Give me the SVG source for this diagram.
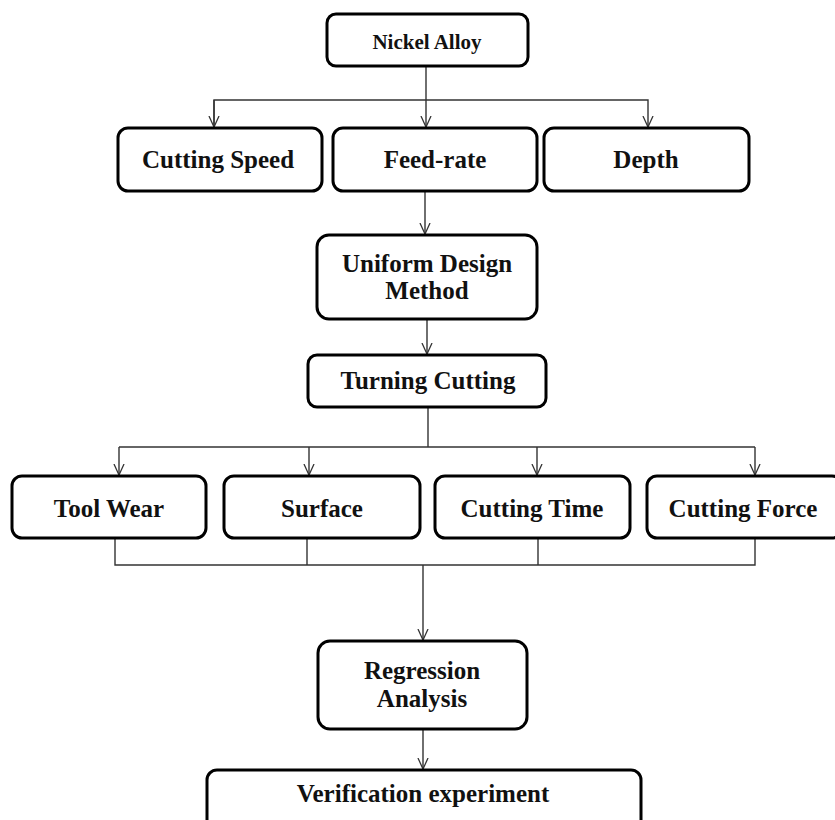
<svg xmlns="http://www.w3.org/2000/svg" width="835" height="820" viewBox="0 0 835 820">
<style>
.box{fill:#fff;stroke:#000;stroke-width:3}
.t{font-family:"Liberation Serif","Times New Roman",serif;font-weight:bold;font-size:25px;fill:#111;text-anchor:middle}
.s{font-size:21px}
.c{fill:none;stroke:#333;stroke-width:1.4}
</style>
<defs>
<marker id="ah" viewBox="0 0 12 12" refX="12" refY="6" markerWidth="11" markerHeight="12" markerUnits="userSpaceOnUse" orient="auto">
<path d="M0,0.5 L12,6 L0,11.5" fill="none" stroke="#333" stroke-width="1.4"/>
</marker>
</defs>
<rect width="835" height="820" fill="#fff"/>
<g id="connectors">
<line class="c" x1="426" y1="66" x2="426" y2="127" marker-end="url(#ah)"/>
<polyline class="c" points="214,127 214,100 648,100 648,127" marker-end="url(#ah)"/>
<line class="c" x1="214" y1="100" x2="214" y2="127" marker-end="url(#ah)"/>
<line class="c" x1="425" y1="191" x2="425" y2="234" marker-end="url(#ah)"/>
<line class="c" x1="427" y1="319" x2="427" y2="354" marker-end="url(#ah)"/>
<line class="c" x1="428" y1="407" x2="428" y2="447"/>
<line class="c" x1="119" y1="447" x2="755" y2="447"/>
<line class="c" x1="119" y1="447" x2="119" y2="475" marker-end="url(#ah)"/>
<line class="c" x1="309" y1="447" x2="309" y2="475" marker-end="url(#ah)"/>
<line class="c" x1="537" y1="447" x2="537" y2="475" marker-end="url(#ah)"/>
<line class="c" x1="755" y1="447" x2="755" y2="475" marker-end="url(#ah)"/>
<polyline class="c" points="115,538 115,565 755,565 755,538"/>
<line class="c" x1="307" y1="538" x2="307" y2="565"/>
<line class="c" x1="538" y1="538" x2="538" y2="565"/>
<line class="c" x1="423" y1="565" x2="423" y2="640" marker-end="url(#ah)"/>
<line class="c" x1="423" y1="729" x2="423" y2="769" marker-end="url(#ah)"/>
</g>
<g id="nickel-alloy">
<rect class="box" x="327" y="14" width="201" height="52" rx="9"/>
<text class="t s" x="427" y="49">Nickel Alloy</text>
</g>
<g id="cutting-speed">
<rect class="box" x="118" y="128" width="204" height="63" rx="10"/>
<text class="t" x="218" y="168">Cutting Speed</text>
</g>
<g id="feed-rate">
<rect class="box" x="333" y="128" width="204" height="63" rx="10"/>
<text class="t" x="435" y="168">Feed-rate</text>
</g>
<g id="depth">
<rect class="box" x="544" y="128" width="205" height="63" rx="10"/>
<text class="t" x="646" y="168">Depth</text>
</g>
<g id="uniform-design">
<rect class="box" x="317" y="235" width="220" height="84" rx="12"/>
<text class="t" x="427" y="272">Uniform Design</text>
<text class="t" x="427" y="299">Method</text>
</g>
<g id="turning-cutting">
<rect class="box" x="308" y="355" width="238" height="52" rx="9"/>
<text class="t" x="428" y="389">Turning Cutting</text>
</g>
<g id="tool-wear">
<rect class="box" x="12" y="476" width="194" height="62" rx="10"/>
<text class="t" x="109" y="517">Tool Wear</text>
</g>
<g id="surface">
<rect class="box" x="224" y="476" width="196" height="62" rx="10"/>
<text class="t" x="322" y="517">Surface</text>
</g>
<g id="cutting-time">
<rect class="box" x="435" y="476" width="195" height="62" rx="10"/>
<text class="t" x="532" y="517">Cutting Time</text>
</g>
<g id="cutting-force">
<rect class="box" x="647" y="476" width="195" height="62" rx="10"/>
<text class="t" x="743" y="517">Cutting Force</text>
</g>
<g id="regression-analysis">
<rect class="box" x="318" y="641" width="209" height="88" rx="12"/>
<text class="t" x="422" y="679">Regression</text>
<text class="t" x="422" y="707">Analysis</text>
</g>
<g id="verification">
<rect class="box" x="207" y="770" width="434" height="70" rx="10"/>
<text class="t" x="423" y="802">Verification experiment</text>
</g>
</svg>
